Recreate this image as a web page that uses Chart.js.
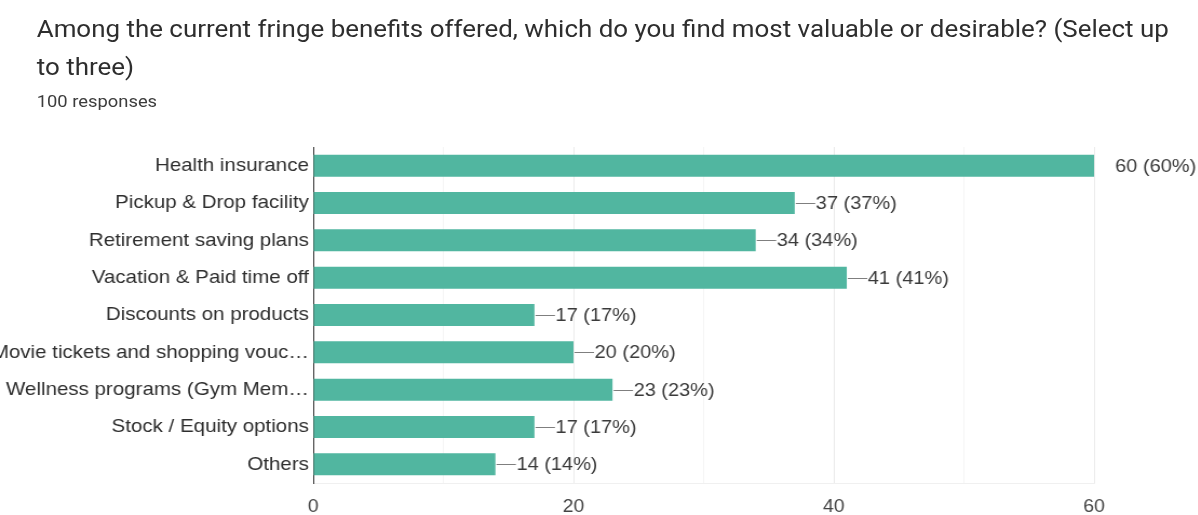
<!DOCTYPE html>
<html>
<head>
<meta charset="utf-8">
<script src="https://cdn.jsdelivr.net/npm/chart.js@4/dist/chart.umd.min.js"></script>
<style>
  html, body { margin: 0; padding: 0; background: #fff; overflow: hidden; }
  /* the whole figure is drawn slightly wide, as in the source screenshot */
  #wrap { position: relative; width: 1109px; height: 515px; overflow: hidden;
          transform: scaleX(1.08); transform-origin: 0 0; }
  #title { position: absolute; left: 34px; top: 10px; font-family: Roboto, "Noto Sans", sans-serif;
           font-size: 24px; line-height: 38px; color: #2e2e2e; white-space: nowrap; }
  #sub { position: absolute; left: 34px; top: 91px; font-family: Roboto, "Noto Sans", sans-serif;
         font-size: 17px; color: #3c3c3c; white-space: nowrap; }
  canvas { position: absolute; left: 0; top: 0; }
</style>
</head>
<body>
<div id="wrap">
  <div id="title">Among the current fringe benefits offered, which do you find most valuable or desirable? (Select up<br>to three)</div>
  <div id="sub">100 responses</div>
  <canvas id="c" width="1109" height="515"></canvas>
</div>
<script>
const totalResponses = 100;
const categories = [
  "Health insurance",
  "Pickup & Drop facility",
  "Retirement saving plans",
  "Vacation & Paid time off",
  "Discounts on products",
  "Movie tickets and shopping vouc…",
  "Wellness programs (Gym Mem…",
  "Stock / Equity options",
  "Others"
];
const counts = [60, 37, 34, 41, 17, 20, 23, 17, 14];
const axisTicks = [0, 20, 40, 60];

const labelFont = '"Liberation Sans", Arial, sans-serif';

// Count + percentage label with a short leader line at the end of each bar
const valueLabels = {
  id: 'valueLabels',
  afterDatasetsDraw(chart) {
    const ctx = chart.ctx;
    const area = chart.chartArea;
    const meta = chart.getDatasetMeta(0);
    ctx.save();
    ctx.font = '18.5px ' + labelFont;
    ctx.textBaseline = 'middle';
    ctx.textAlign = 'left';
    meta.data.forEach((bar, i) => {
      const v = counts[i];
      const x = bar.x, y = bar.y;
      const pct = Math.round(v / totalResponses * 100);
      if (x + 18 <= area.right) {
        ctx.strokeStyle = '#7f7f7f';
        ctx.lineWidth = 1;
        ctx.beginPath();
        ctx.moveTo(x + 1, Math.round(y) + 0.5);
        ctx.lineTo(x + 19, Math.round(y) + 0.5);
        ctx.stroke();
      }
      ctx.fillStyle = '#3a3a3a';
      ctx.fillText(v + ' (' + pct + '%)', x + 19.5, y + 1);
    });
    ctx.restore();
  }
};

new Chart(document.getElementById('c'), {
  type: 'bar',
  data: {
    labels: categories,
    datasets: [{
      data: counts,
      backgroundColor: '#51b6a0',
      borderWidth: 0,
      barPercentage: 0.59,
      categoryPercentage: 1.0
    }]
  },
  options: {
    indexAxis: 'y',
    responsive: false,
    animation: false,
    layout: { padding: { top: 147, right: 96, bottom: 0, left: 0 } },
    plugins: { legend: { display: false }, tooltip: { enabled: false } },
    scales: {
      x: {
        min: 0, max: 60,
        afterFit(scale) { scale.height = 32; },
        afterBuildTicks(scale) {
          scale.ticks = [0, 10, 20, 30, 40, 50, 60].map(v => ({ value: v }));
        },
        ticks: {
          padding: 13,
          color: '#444',
          font: { family: labelFont, size: 18 },
          autoSkip: false,
          maxRotation: 0,
          callback: (v) => axisTicks.includes(v) ? String(v) : ''
        },
        grid: {
          drawTicks: false,
          color: (c) => c.tick && c.tick.value === 0 ? 'rgba(0,0,0,0)'
                       : (axisTicks.includes(c.tick && c.tick.value) ? '#ebebeb' : '#f5f5f5')
        },
        border: { display: true, color: '#f0f0f0' }
      },
      y: {
        afterFit(scale) { scale.width = 290; },
        ticks: {
          padding: 4,
          color: '#2e2e2e',
          font: { family: labelFont, size: 19 },
          autoSkip: false
        },
        grid: { display: false, drawTicks: false },
        border: { display: true, color: '#333', width: 1 }
      }
    }
  },
  plugins: [valueLabels]
});
</script>
</body>
</html>
